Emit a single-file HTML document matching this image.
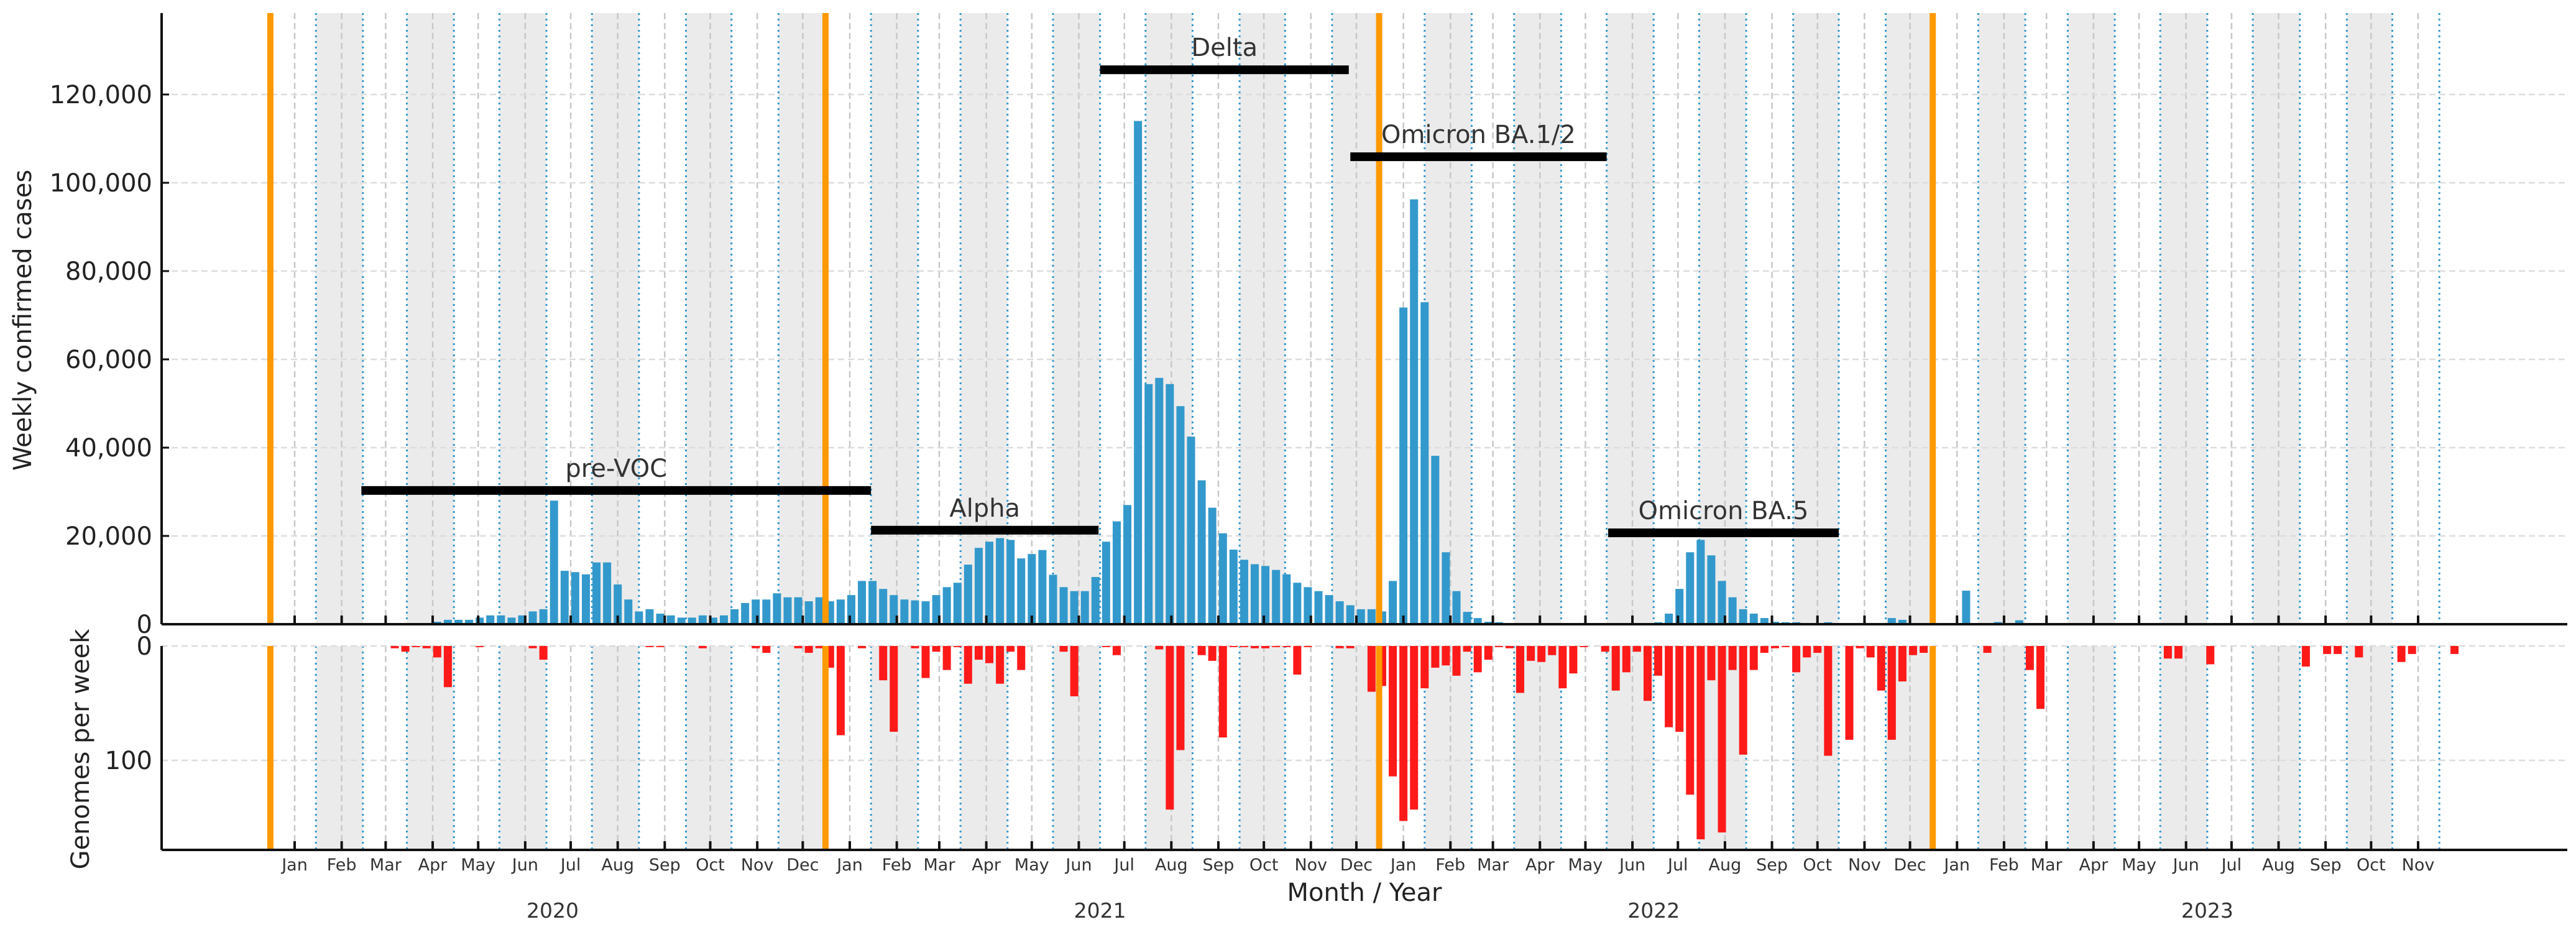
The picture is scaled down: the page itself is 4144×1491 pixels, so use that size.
<!DOCTYPE html>
<html><head><meta charset="utf-8"><style>
html,body{margin:0;padding:0;background:#fff;}
svg{display:block;font-family:"DejaVu Sans","Liberation Sans",sans-serif;}
</style></head><body>
<svg id="chart" width="4144" height="1491" viewBox="0 0 4144 1491" xmlns="http://www.w3.org/2000/svg"></svg>
<script>
// ---- data ----
const caseStartWeek = 0;
const weeklyCases = [
560,1000,1000,1000,1500,2000,2000,1500,2000,2900,
3400,28000,12100,11800,11300,14000,14000,9000,5600,2900,
3400,2400,2000,1500,1500,2000,1500,2000,3400,4800,
5600,5600,7000,6100,6100,5200,6100,5200,5600,6600,
9800,9800,8000,6600,5600,5400,5200,6600,8400,9400,
13500,17300,18700,19500,19100,14900,15900,16800,11200,8400,
7500,7500,10700,18700,23300,27000,114000,54400,55800,54400,
49400,42500,32600,26400,20600,16900,14600,13600,13200,12300,
11300,9400,8400,7500,6600,5200,4300,3400,3400,2900,
9800,71750,96250,72950,38150,16300,7500,2800,1400,560,
450,0,0,0,0,0,0,0,0,0,
0,0,0,0,0,450,2400,8000,16300,19100,
15600,9800,6100,3400,2400,1400,560,450,450,0,
0,450,0,0,0,0,0,1400,1000,0,
0,0,0,0,7600,0,0,500,0,900
];
const genomeStartWeek = -4;
const weeklyGenomes = [
2,5,1,2,10,36,0,0,1,0,
0,0,0,2,12,0,0,0,0,0,
0,0,0,0,1,1,0,0,0,2,
0,0,0,0,2,6,0,0,2,6,
2,19,78,0,2,0,30,75,0,2,
28,5,21,1,33,12,15,33,5,21,
0,0,0,5,44,0,0,1,8,0,
0,0,3,143,91,0,8,13,80,1,
1,2,2,1,1,25,1,0,0,2,
2,0,40,35,114,153,143,37,19,17,
26,5,23,12,1,2,41,13,14,8,
37,24,1,0,5,39,23,5,48,26,
71,75,130,169,30,163,21,95,21,6,
2,1,23,10,6,96,0,82,2,10,
39,82,31,8,6,0,0,0,0,0,
6,0,0,0,21,55,0,0,0,0,
0,0,0,0,0,0,0,11,11,0,
0,16,0,0,0,0,0,0,0,0,
18,0,7,7,0,10,0,0,0,14,
7,0,0,0,7
];
const variantNames = ["pre-VOC","Alpha","Delta","Omicron BA.1/2","Omicron BA.5"];
const variantStart = ["2020-02-14","2021-01-15","2021-06-15","2021-11-27","2022-05-16"];
const variantEnd   = ["2021-01-15","2021-06-14","2021-11-26","2022-05-15","2022-10-15"];
const variantLevel = [30300,21300,125600,105900,20700];
const yearBoundaries = ["2019-12-16","2020-12-16","2021-12-16","2022-12-16"];
const caseTicks = [0,20000,40000,60000,80000,100000,120000];
const caseTickLabels = ["0","20,000","40,000","60,000","80,000","100,000","120,000"];
const genomeTicks = [0,100];
const genomeTickLabels = ["0","100"];
const monthNames = ["Jan","Feb","Mar","Apr","May","Jun","Jul","Aug","Sep","Oct","Nov","Dec"];
const years = [2020,2021,2022,2023];

// ---- scales ----
const NS="http://www.w3.org/2000/svg";
const svg=document.getElementById('chart');
const L=260, R=4130, T1=21, B1=1004, T2=1039, B2=1367;
const PXD=2.44, X0=474, WEEK0DAY=94;
function dayOf(s){const d=new Date(s+"T00:00:00Z");return (d-Date.UTC(2020,0,1))/86400000;}
function X(day){return X0+day*PXD;}
function weekX(k){return X(WEEK0DAY+7*k);}
function Y1(v){return B1-v*(142/20000);}
function Y2(v){return T2+v*1.84;}
function el(tag,attrs,parent){const e=document.createElementNS(NS,tag);for(const k in attrs)e.setAttribute(k,attrs[k]);(parent||svg).appendChild(e);return e;}

const gShade=el('g',{});
const gGrid=el('g',{});
const gBars=el('g',{});
const gGen=el('g',{});
const gOver=el('g',{});
const gAxes=el('g',{});

years.forEach(y=>{
  for(let m=0;m<12;m++){
    if(y===2023&&m>10)break;
    const d=(Date.UTC(y,m,1)-Date.UTC(2020,0,1))/86400000;
    const mid=(Date.UTC(y,m,15)-Date.UTC(2020,0,1))/86400000;
    const midN=(Date.UTC(y,m+1,15)-Date.UTC(2020,0,1))/86400000;
    if(m%2===0 && !(y===2023&&m===10)){
      const r=el('rect',{x:X(mid),y:T1,width:X(midN)-X(mid),height:B1-T1,fill:'#ebebeb'},gShade);
      
      const r2=el('rect',{x:X(mid),y:T2,width:X(midN)-X(mid),height:B2-T2,fill:'#ebebeb'},gShade);
      
    }
    [[T1,B1],[T2,B2]].forEach(([a,b])=>{
      const ln=el('line',{x1:X(d),x2:X(d),y1:a,y2:b,stroke:'#c8c8c8','stroke-width':2.5,'stroke-dasharray':'10,6'},gGrid);
      
      const dl=el('line',{x1:X(mid),x2:X(mid),y1:a,y2:b,stroke:'#3399cc','stroke-width':3,'stroke-dasharray':'3,6'},gGrid);
      
    });
    const tk=el('line',{x1:X(d),x2:X(d),y1:B1-14,y2:B1,stroke:'#111','stroke-width':4},gAxes);
    
    const tk2=el('line',{x1:X(d),x2:X(d),y1:B2-14,y2:B2,stroke:'#111','stroke-width':4},gAxes);
    
    const t=el('text',{x:X(d),y:1400,'font-size':27,fill:'#333','text-anchor':'middle'},gAxes);
    t.textContent=monthNames[m];
    
  }
});
caseTicks.forEach((v,i)=>{
  if(v>0){const g=el('line',{x1:L,x2:R,y1:Y1(v),y2:Y1(v),stroke:'#dddddd','stroke-width':2.5,'stroke-dasharray':'10,6'},gGrid);
  }
  const t=el('text',{x:245,y:Y1(v)+14,'font-size':40,fill:'#222','text-anchor':'end'},gAxes);
  t.textContent=caseTickLabels[i];
  const tk=el('line',{x1:L,x2:L+12,y1:Y1(v),y2:Y1(v),stroke:'#111','stroke-width':3},gAxes);
  
});
genomeTicks.forEach((v,i)=>{
  const g=el('line',{x1:L,x2:R,y1:Y2(v),y2:Y2(v),stroke:'#dddddd','stroke-width':2.5,'stroke-dasharray':'10,6'},gGrid);
  
  const t=el('text',{x:245,y:Y2(v)+14,'font-size':40,fill:'#222','text-anchor':'end'},gAxes);
  t.textContent=genomeTickLabels[i];
});
const BW=13;
weeklyCases.forEach((v,i)=>{
  if(v<=0)return;
  const cx=weekX(caseStartWeek+i);
  const r=el('rect',{x:cx-BW/2,y:Y1(v),width:BW,height:B1-Y1(v),fill:'#3399cc'},gBars);
  
});
weeklyGenomes.forEach((v,i)=>{
  if(v<=0)return;
  const cx=weekX(genomeStartWeek+i);
  const r=el('rect',{x:cx-BW/2,y:T2,width:BW,height:Y2(v)-T2,fill:'#ff1a1a'},gGen);
  
});
yearBoundaries.forEach(s=>{
  const x=X(dayOf(s));
  [[T1,B1],[T2,B2]].forEach(([a,b])=>{
    const o=el('rect',{x:x-5,y:a,width:10,height:b-a,fill:'#ff9900'},gOver);
    
  });
});
variantNames.forEach((n,i)=>{
  const x1=X(dayOf(variantStart[i])),x2=X(dayOf(variantEnd[i])),y=Y1(variantLevel[i]);
  const r=el('rect',{x:x1,y:y-7,width:x2-x1,height:14,fill:'#000'},gOver);
  
  const t=el('text',{x:(x1+x2)/2,y:y-22,'font-size':40,fill:'#333','text-anchor':'middle'},gOver);
  t.textContent=n;
});
[[L,T1,L,B1],[L,B1,R,B1],[L,T2,L,B2],[L,B2,R,B2]].forEach(c=>{
  const s=el('line',{x1:c[0],y1:c[1],x2:c[2],y2:c[3],stroke:'#111','stroke-width':4},gAxes);
  
});
years.forEach(y=>{
  const d=(Date.UTC(y,5,15)-Date.UTC(2020,0,1))/86400000;
  const t=el('text',{x:X(d)+ (y===2020?10:0),y:1476,'font-size':33,fill:'#333','text-anchor':'middle'},gAxes);
  t.textContent=String(y);
});
const xt=el('text',{x:2195,y:1449,'font-size':40,fill:'#222','text-anchor':'middle'},gAxes);
xt.textContent='Month / Year';
const yt=el('text',{x:0,y:0,'font-size':40,fill:'#222','text-anchor':'middle',transform:'translate(50,515) rotate(-90)'},gAxes);
yt.textContent='Weekly confirmed cases';
const yt2=el('text',{x:0,y:0,'font-size':40,fill:'#222','text-anchor':'middle',transform:'translate(143,1205) rotate(-90)'},gAxes);
yt2.textContent='Genomes per week';
</script>
</body></html>
